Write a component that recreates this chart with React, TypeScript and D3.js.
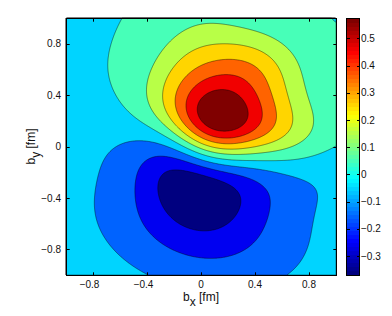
import React, { useEffect, useRef } from "react";
import * as d3 from "d3";

// gaussian lobes fitted to the contour positions
const lobeAmp = [0.575, 0.243, 0.376, -0.396, -0.206, 0.16, -0.145];
const lobeCx = [0.05, 0.34, 0.343, -0.031, -0.006, -0.212, 0.299];
const lobeCy = [0.114, 0.581, 0.132, -0.06, -0.591, 0.429, -0.081];
const lobeSx = [0.234, 0.274, 0.365, 0.34, 0.63, 0.22, 0.606];
const lobeSy = [0.26, 0.221, 0.22, 0.283, 0.403, 0.442, 0.22];
const lobeTilt = [0, 0, -11.711, -71.583, -14.737, -24.573, -7.117];

const levels = [-0.28, -0.186, -0.091, 0.003, 0.098, 0.192, 0.287, 0.381, 0.476];
const colorRange = [-0.37, 0.575];
const xTicks = [-0.8, -0.4, 0, 0.4, 0.8];
const yTicks = [-0.8, -0.4, 0, 0.4, 0.8];
const barTicks = [-0.3, -0.2, -0.1, 0, 0.1, 0.2, 0.3, 0.4, 0.5];

const W = 392;
const H = 316;
const plot = { left: 66, top: 18, width: 270, height: 257 };
const bar = { left: 346, width: 13 };
const font = "'Liberation Sans', Arial, sans-serif";

function jet(t: number) {
  const c = (v: number) => Math.max(0, Math.min(1, v));
  const r = c(Math.min(4 * t - 1.5, -4 * t + 4.5));
  const g = c(Math.min(4 * t - 0.5, -4 * t + 3.5));
  const b = c(Math.min(4 * t + 0.5, -4 * t + 2.5));
  return d3.rgb(r * 255, g * 255, b * 255).formatHex();
}

function field(bx: number, by: number) {
  let v = 0;
  for (let k = 0; k < lobeAmp.length; k++) {
    const a = (lobeTilt[k] * Math.PI) / 180;
    const dx = bx - lobeCx[k];
    const dy = by - lobeCy[k];
    const u = dx * Math.cos(a) + dy * Math.sin(a);
    const w = -dx * Math.sin(a) + dy * Math.cos(a);
    v += lobeAmp[k] * Math.exp(-(u * u) / (2 * lobeSx[k] ** 2) - (w * w) / (2 * lobeSy[k] ** 2));
  }
  return v;
}

const fmt = (v: number) => (v < 0 ? "\u2212" + Math.abs(v) : String(v));

const App = () => {
  const ref = useRef<SVGSVGElement>(null);

  useEffect(() => {
    const svg = d3.select(ref.current);
    svg.selectAll("*").remove();

    const bottom = plot.top + plot.height;
    const right = plot.left + plot.width;
    const x = d3.scaleLinear().domain([-1, 1]).range([plot.left, right]);
    const y = d3.scaleLinear().domain([-1, 1]).range([bottom, plot.top]);
    const c = d3.scaleLinear().domain(colorRange).range([bottom, plot.top]);

    // sample the field once per pixel of the plot area
    const n = plot.width;
    const m = plot.height;
    const values: number[] = [];
    for (let j = 0; j < m; j++) {
      for (let i = 0; i < n; i++) {
        values.push(field(x.invert(plot.left + i + 0.5), y.invert(plot.top + j + 0.5)));
      }
    }

    const fills = d3.range(levels.length + 1).map((k) => jet(k / levels.length));
    const contours = d3.contours().size([n, m]).thresholds(levels)(values);
    const path = d3.geoPath(d3.geoIdentity().translate([plot.left, plot.top]));

    svg
      .append("rect")
      .attr("x", plot.left)
      .attr("y", plot.top)
      .attr("width", plot.width)
      .attr("height", plot.height)
      .attr("fill", fills[0]);

    svg
      .append("g")
      .selectAll("path")
      .data(contours)
      .join("path")
      .attr("d", path as any)
      .attr("fill", (d, i) => fills[i + 1])
      .attr("stroke", "#000")
      .attr("stroke-opacity", 0.85)
      .attr("stroke-width", 0.5);

    // frame and inward ticks
    const axes = svg.append("g").attr("stroke", "#000").attr("stroke-width", 1);
    axes
      .append("rect")
      .attr("x", plot.left + 0.5)
      .attr("y", plot.top + 0.5)
      .attr("width", plot.width)
      .attr("height", plot.height)
      .attr("fill", "none");
    const tl = 2.7;
    xTicks.forEach((v) => {
      const px = Math.round(x(v)) + 0.5;
      axes.append("line").attr("x1", px).attr("x2", px).attr("y1", bottom).attr("y2", bottom - tl);
      axes.append("line").attr("x1", px).attr("x2", px).attr("y1", plot.top + 1).attr("y2", plot.top + 1 + tl);
    });
    yTicks.forEach((v) => {
      const py = Math.round(y(v)) + 0.5;
      axes.append("line").attr("x1", plot.left + 1).attr("x2", plot.left + 1 + tl).attr("y1", py).attr("y2", py);
      axes.append("line").attr("x1", right).attr("x2", right - tl).attr("y1", py).attr("y2", py);
    });

    const labels = svg.append("g").attr("font-family", font).attr("font-size", 10).attr("fill", "#111");
    xTicks.forEach((v) => {
      labels
        .append("text")
        .attr("x", x(v) + (v < 0 ? -3.5 : 0))
        .attr("y", 288)
        .attr("text-anchor", "middle")
        .text(fmt(v));
    });
    yTicks.forEach((v) => {
      labels
        .append("text")
        .attr("x", 61)
        .attr("y", y(v) + 3.6)
        .attr("text-anchor", "end")
        .text(fmt(v));
    });

    // axis titles
    const xt = svg
      .append("text")
      .attr("x", 201)
      .attr("y", 301)
      .attr("text-anchor", "middle")
      .attr("font-family", font)
      .attr("font-size", 12)
      .attr("fill", "#111");
    xt.append("tspan").text("b");
    xt.append("tspan").attr("dy", 4.5).text("x");
    xt.append("tspan").attr("dy", -4.5).text(" [fm]");

    const yt = svg
      .append("text")
      .attr("transform", `translate(35, ${plot.top + plot.height / 2}) rotate(-90)`)
      .attr("text-anchor", "middle")
      .attr("font-family", font)
      .attr("font-size", 12)
      .attr("fill", "#111");
    yt.append("tspan").text("b");
    yt.append("tspan").attr("dy", 4.5).text("y");
    yt.append("tspan").attr("dy", -4.5).text(" [fm]");

    // colorbar
    const steps = 64;
    const cb = svg.append("g").attr("shape-rendering", "crispEdges");
    d3.range(steps).forEach((s) => {
      const v0 = colorRange[0] + (s / steps) * (colorRange[1] - colorRange[0]);
      const v1 = colorRange[0] + ((s + 1) / steps) * (colorRange[1] - colorRange[0]);
      cb.append("rect")
        .attr("x", bar.left)
        .attr("y", c(v1))
        .attr("width", bar.width)
        .attr("height", c(v0) - c(v1) + 0.5)
        .attr("fill", jet(s / (steps - 1)));
    });
    cb.append("rect")
      .attr("x", bar.left + 0.5)
      .attr("y", plot.top + 0.5)
      .attr("width", bar.width)
      .attr("height", plot.height)
      .attr("fill", "none")
      .attr("stroke", "#000");
    barTicks.forEach((v) => {
      const py = Math.round(c(v)) + 0.5;
      cb.append("line")
        .attr("x1", bar.left + bar.width)
        .attr("x2", bar.left + bar.width - 2.5)
        .attr("y1", py)
        .attr("y2", py)
        .attr("stroke", "#000");
      cb.append("line")
        .attr("x1", bar.left + 1)
        .attr("x2", bar.left + 3.5)
        .attr("y1", py)
        .attr("y2", py)
        .attr("stroke", "#000");
      labels
        .append("text")
        .attr("x", 361)
        .attr("y", c(v) + 3.6)
        .text(fmt(v));
    });
  }, []);

  return (
    <svg
      ref={ref}
      width={W}
      height={H}
      style={{ position: "absolute", left: 0, top: 0, background: "#fff" }}
    />
  );
};

export default App;
